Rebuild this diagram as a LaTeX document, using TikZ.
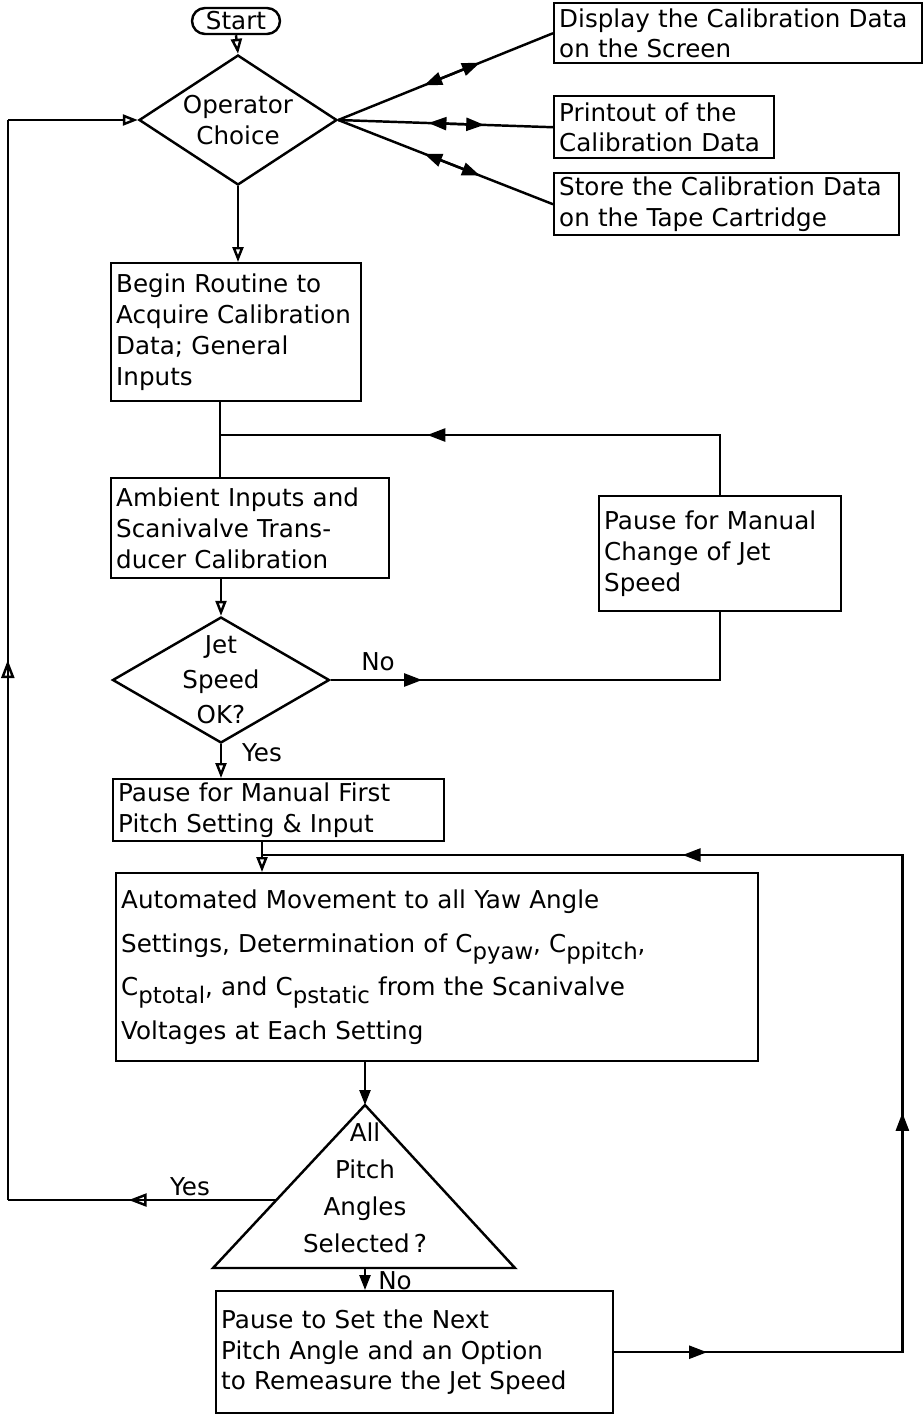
\documentclass[tikz,border=0pt]{standalone}
\usepackage{fontspec}
\setmainfont{DejaVu Sans}
\usepackage{tikz}
\usetikzlibrary{shapes.geometric,calc,arrows.meta,decorations.markings}
\newcommand{\lowsub}[1]{\raisebox{-0.55ex}{\fontsize{13}{13}\selectfont #1}}

\begin{document}
\begin{tikzpicture}[
            x=0.02cm, y=-0.02cm,
            line width=1.4pt,
            every node/.style={font=\fontsize{14}{17.5}\selectfont},
            proc_box/.style={rectangle, draw, anchor=north west, align=left, inner xsep=0.1cm, inner ysep=0pt},
            choice_node/.style={diamond, draw, align=center, inner sep=0pt},
            start_node/.style={rectangle, draw, rounded corners=0.26cm, minimum width=1.76cm, minimum height=0.52cm, inner sep=0pt},
            open_tip/.style={-{Triangle[open, length=0.3cm, width=0.22cm]}},
            fill_tip/.style={-{Triangle[length=0.3cm, width=0.22cm]}},
            both_tip/.style={{Triangle[length=0.36cm, width=0.26cm]}-{Triangle[length=0.36cm, width=0.26cm]}},
            mid_tip/.style={postaction={decorate}, decoration={markings, mark=at position #1 with {\arrow{Triangle[length=0.36cm, width=0.26cm]}}}},
            open_mid/.style={postaction={decorate}, decoration={markings, mark=at position #1 with {\arrow{Triangle[open, length=0.36cm, width=0.26cm]}}}},
            lbl/.style={inner sep=0pt}
        ]
            \useasboundingbox (0,0) rectangle (923,1414);
            % The flow chart
            \node[start_node] (start) at (236,21) {Start};
            \node[choice_node, minimum width=3.96cm, minimum height=2.6cm, aspect=1.52] (oc) at (238,120) {Operator\\Choice};
            \node[proc_box, text width=7.16cm, minimum height=1.2cm] (disp) at (553,2) {Display the Calibration Data\\on the Screen};
            \node[proc_box, text width=4.2cm, minimum height=1.24cm] (prnt) at (553,95) {Printout of the\\Calibration Data};
            \node[proc_box, text width=6.7cm, minimum height=1.24cm] (stor) at (553,172) {Store the Calibration Data\\on the Tape Cartridge};
            \node[proc_box, text width=4.8cm, minimum height=2.76cm] (begin) at (110,262) {Begin Routine to\\Acquire Calibration\\Data; General\\Inputs};
            \node[proc_box, text width=5.36cm, minimum height=2.0cm] (amb) at (110,477) {Ambient Inputs and\\Scanivalve Trans-\\ducer Calibration};
            \node[proc_box, text width=4.64cm, minimum height=2.3cm] (pman) at (598,495) {Pause for Manual\\Change of Jet\\Speed};
            \node[choice_node, inner sep=-0.2cm, minimum width=4.34cm, minimum height=2.52cm, aspect=1.72, font=\fontsize{14}{20}\selectfont] (jet) at (221,680) {Jet\\Speed\\OK?};
            \node[proc_box, text width=6.42cm, minimum height=1.24cm] (pfirst) at (112,778) {Pause for Manual First\\Pitch Setting \& Input};
            \node[proc_box, text width=12.64cm, minimum height=3.76cm, font=\fontsize{14}{25}\selectfont] (auto) at (115,872) {Automated Movement to all Yaw Angle\\Settings, Determination of C\lowsub{pyaw}, C\lowsub{ppitch},\\C\lowsub{ptotal}, and C\lowsub{pstatic} from the Scanivalve\\Voltages at Each Setting};
            \coordinate (tri_top) at (365,1105);
            \coordinate (tri_left) at (213,1268);
            \coordinate (tri_right) at (515,1268);
            \draw (tri_top) -- (tri_left) -- (tri_right) -- cycle;
            \node[align=center, font=\fontsize{14}{21}\selectfont] (tri_txt) at (365,1188) {All\\Pitch\\Angles\\Selected\,?};
            \node[proc_box, text width=7.74cm, minimum height=2.44cm] (pnext) at (215,1290) {Pause to Set the Next\\Pitch Angle and an Option\\to Remeasure the Jet Speed};

            % Operator choice outputs
            \draw[open_tip] (start.south) -- (oc.north);
            \draw (oc.east) -- (disp.west);
            \draw (oc.east) -- (prnt.west);
            \draw (oc.east) -- (stor.west);
            \draw[both_tip] ($(oc.east)!0.40!(disp.west)$) -- ($(oc.east)!0.66!(disp.west)$);
            \draw[both_tip] ($(oc.east)!0.42!(prnt.west)$) -- ($(oc.east)!0.68!(prnt.west)$);
            \draw[both_tip] ($(oc.east)!0.40!(stor.west)$) -- ($(oc.east)!0.66!(stor.west)$);

            % Main line
            \coordinate (join_a) at (220,435);
            \coordinate (join_b) at (262,855);
            \draw[open_tip] (oc.south) -- (oc.south |- begin.north);
            \draw (begin.south -| join_a) -- (amb.north -| join_a);
            \draw[mid_tip=0.63] (pman.north) -- (pman.north |- join_a) -- (join_a);
            \draw[open_tip] (amb.south -| jet.north) -- (jet.north);
            \draw[mid_tip=0.2] (jet.east) -- (jet.east -| pman.south) -- (pman.south);
            \node[lbl] (no_a) at (378,662) {No};
            \draw[open_tip] (jet.south) -- (jet.south |- pfirst.north);
            \node[lbl] (yes_a) at (262,753) {Yes};
            \draw[open_tip] (pfirst.south -| join_b) -- (auto.north -| join_b);
            \draw[fill_tip] (auto.south -| tri_top) -- (tri_top);
            \draw[fill_tip] (tri_top |- tri_left) -- (pnext.north -| tri_top);
            \node[lbl] (no_b) at (395,1281) {No};

            % Back to operator choice
            \coordinate (yes_pt) at ($(tri_top)!0.583!(tri_left)$);
            \path (oc.west) ++(-130,0) coordinate (loop_tl);
            \coordinate (loop_bl) at (loop_tl |- yes_pt);
            \draw[open_mid=0.55] (yes_pt) -- (loop_bl);
            \draw[open_mid=0.5] (loop_bl) -- (loop_tl);
            \draw[open_tip] (loop_tl) -- (oc.west);
            \node[lbl] (yes_b) at (190,1187) {Yes};

            % Next pitch angle
            \path (pnext.east) ++(288,0) coordinate (loop_br);
            \draw[postaction={decorate}, decoration={markings,
                mark=at position 0.065 with {\arrow{Triangle[length=0.36cm, width=0.26cm]}},
                mark=at position 0.37 with {\arrow{Triangle[length=0.36cm, width=0.26cm]}},
                mark=at position 0.705 with {\arrow{Triangle[length=0.36cm, width=0.26cm]}}}]
                (pnext.east) -- (loop_br) -- (loop_br |- join_b) -- (join_b);
        \end{tikzpicture}
\end{document}
